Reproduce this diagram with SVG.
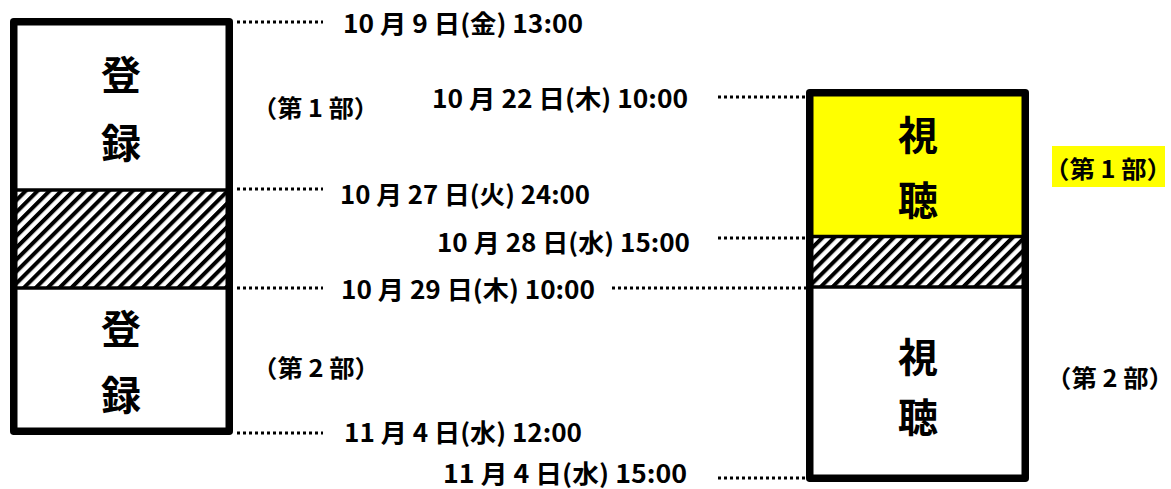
<svg xmlns="http://www.w3.org/2000/svg" width="1171" height="489" viewBox="0 0 1171 489">
<style>
.t{font-family:"Noto Sans CJK JP","Liberation Sans",sans-serif;font-weight:bold;fill:#000;dominant-baseline:central}
.d{font-size:25px}
.p{font-size:24px}
.big{font-size:40px;text-anchor:middle}
.dot{stroke:#000;stroke-width:3;stroke-dasharray:3 3;fill:none}
.box{fill:none;stroke:#000;stroke-width:7.5;stroke-linejoin:round}
.div{stroke:#000;stroke-width:3.5}
</style>
<defs>
<pattern id="hatch" width="8.4" height="8.4" patternUnits="userSpaceOnUse" patternTransform="rotate(45)">
<rect width="8.4" height="8.4" fill="#fff"/>
<rect width="4" height="8.4" fill="#000"/>
</pattern>
</defs>
<g id="connectors">
<line class="dot" x1="237" y1="22" x2="323" y2="22"/>
<line class="dot" x1="237" y1="189" x2="323" y2="189"/>
<line class="dot" x1="237" y1="288" x2="323" y2="288"/>
<line class="dot" x1="237" y1="433" x2="323" y2="433"/>
<line class="dot" x1="718" y1="97" x2="806" y2="97"/>
<line class="dot" x1="718" y1="238" x2="806" y2="238"/>
<line class="dot" x1="612" y1="288" x2="806" y2="288"/>
<line class="dot" x1="718" y1="478" x2="806" y2="478"/>
</g>
<g id="register-box">
<rect x="14" y="190" width="216" height="98" fill="url(#hatch)"/>
<line class="div" x1="14" y1="190" x2="230" y2="190"/>
<line class="div" x1="14" y1="288" x2="230" y2="288"/>
<rect class="box" x="13.75" y="21.75" width="215.5" height="409.5"/>
<text class="t big" x="121" y="73">登</text>
<text class="t big" x="121" y="141">録</text>
<text class="t big" x="121" y="327">登</text>
<text class="t big" x="121" y="393">録</text>
</g>
<g id="viewing-box">
<rect x="810" y="93" width="216" height="143" fill="#ffff00"/>
<rect x="810" y="236" width="216" height="51" fill="url(#hatch)"/>
<line class="div" x1="810" y1="236.5" x2="1026" y2="236.5"/>
<line class="div" x1="810" y1="287" x2="1026" y2="287"/>
<rect class="box" x="809.75" y="92.75" width="215.5" height="385.5"/>
<text class="t big" x="918" y="133">視</text>
<text class="t big" x="918" y="198">聴</text>
<text class="t big" x="918" y="355">視</text>
<text class="t big" x="918" y="415">聴</text>
</g>
<g id="labels">
<text class="t d" x="343" y="22" textLength="240" lengthAdjust="spacingAndGlyphs">10 月 9 日(金) 13:00</text>
<text class="t p" x="252" y="106" textLength="127" lengthAdjust="spacingAndGlyphs">（第 1 部）</text>
<text class="t d" x="432" y="97" textLength="256" lengthAdjust="spacingAndGlyphs">10 月 22 日(木) 10:00</text>
<text class="t d" x="340" y="193" textLength="250" lengthAdjust="spacingAndGlyphs">10 月 27 日(火) 24:00</text>
<text class="t d" x="437" y="241" textLength="253" lengthAdjust="spacingAndGlyphs">10 月 28 日(水) 15:00</text>
<text class="t d" x="341" y="288" textLength="254" lengthAdjust="spacingAndGlyphs">10 月 29 日(木) 10:00</text>
<text class="t p" x="252" y="366" textLength="128" lengthAdjust="spacingAndGlyphs">（第 2 部）</text>
<text class="t d" x="344" y="431" textLength="238" lengthAdjust="spacingAndGlyphs">11 月 4 日(水) 12:00</text>
<text class="t d" x="443" y="472" textLength="244" lengthAdjust="spacingAndGlyphs">11 月 4 日(水) 15:00</text>
<rect x="1052" y="146" width="113" height="41" fill="#ffff00"/>
<text class="t p" x="1044" y="167" textLength="128" lengthAdjust="spacingAndGlyphs">（第 1 部）</text>
<text class="t p" x="1046" y="376" textLength="128" lengthAdjust="spacingAndGlyphs">（第 2 部）</text>
</g>
</svg>
